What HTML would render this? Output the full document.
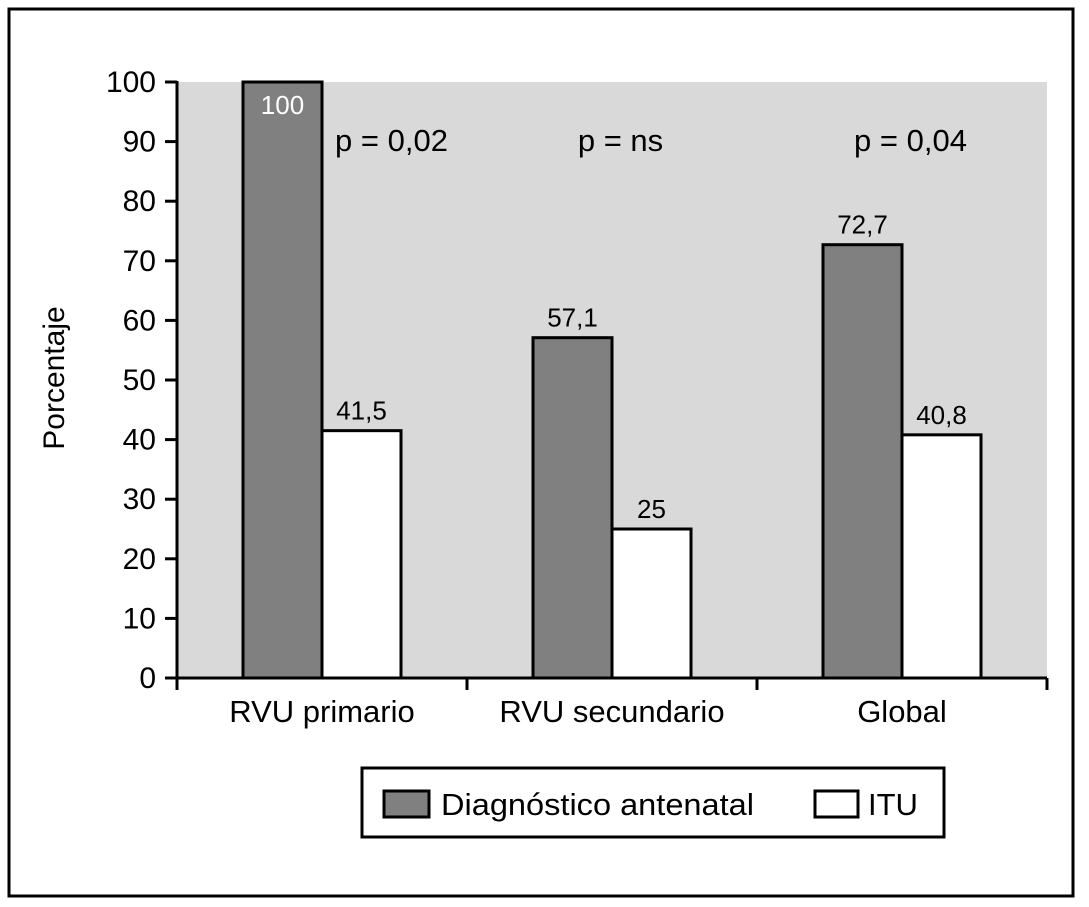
<!DOCTYPE html>
<html><head><meta charset="utf-8"><style>
body{margin:0;background:#fff}
svg{display:block;font-family:"Liberation Sans",Arial,sans-serif}
</style></head><body>
<svg id="c" width="1089" height="907" viewBox="0 0 1089 907">
<rect x="9" y="9" width="1064" height="887" fill="#fff" stroke="#000" stroke-width="3"/>
<rect x="177" y="82" width="870" height="596" fill="#d9d9d9"/>
<g id="marks"></g>
<text x="64" y="378" font-size="30" text-anchor="middle" transform="rotate(-90 64 378)">Porcentaje</text>
<g>
<rect x="362" y="768" width="582" height="69" fill="#fff" stroke="#000" stroke-width="3"/>
<rect x="384" y="791" width="45" height="26" fill="#808080" stroke="#000" stroke-width="3"/>
<text x="441" y="815" font-size="31" textLength="313" lengthAdjust="spacingAndGlyphs">Diagnóstico antenatal</text>
<rect x="815" y="791" width="43" height="26" fill="#fff" stroke="#000" stroke-width="3"/>
<text x="868" y="815" font-size="31">ITU</text>
</g>
</svg>
<script>
const categories=["RVU primario","RVU secundario","Global"];
const antenatal=[100,57.1,72.7];
const itu=[41.5,25,40.8];
const antenatalLabels=["100","57,1","72,7"];
const ituLabels=["41,5","25","40,8"];
const pLabels=["p = 0,02","p = ns","p = 0,04"];
const yTicks=[0,10,20,30,40,50,60,70,80,90,100];
const NS="http://www.w3.org/2000/svg";
const L=177,R=1047,T=82,B=678,gw=(R-L)/3,bw=79,off=66;
const y=v=>B-(v/100)*(B-T);
const gx=i=>L+i*gw;
const g=document.getElementById('marks');
function mk(t,a,txt){const e=document.createElementNS(NS,t);for(const k in a)e.setAttribute(k,a[k]);if(txt!=null)e.textContent=txt;g.appendChild(e);return e;}
categories.forEach((c,i)=>{
 const x0=gx(i)+off;
 let b=mk('rect',{x:x0,y:y(antenatal[i]),width:bw,height:B-y(antenatal[i]),fill:'#808080',stroke:'#000','stroke-width':3});
 
 
 let w=mk('rect',{x:x0+bw,y:y(itu[i]),width:bw,height:B-y(itu[i]),fill:'#fff',stroke:'#000','stroke-width':3});
 
 
 const inside=antenatal[i]>=95;
 let t1=mk('text',{x:x0+bw/2,y:inside?y(antenatal[i])+32:y(antenatal[i])-11,'font-size':26,'text-anchor':'middle',fill:inside?'#fff':'#000'},antenatalLabels[i]);
 
 
 let t2=mk('text',{x:x0+bw*1.5,y:y(itu[i])-11,'font-size':26,'text-anchor':'middle'},ituLabels[i]);
 
 
 let p=mk('text',{x:gx(i)+off+bw*1.5+(i==0?30:-31),y:151,'font-size':31,'text-anchor':'middle'},pLabels[i]);
 
 
 let cl=mk('text',{x:gx(i)+gw/2,y:722,'font-size':31,'text-anchor':'middle'},c);
 
 
});
for(let i=0;i<=3;i++){
 let t=mk('line',{x1:gx(i),x2:gx(i),y1:B,y2:B+12,stroke:'#000','stroke-width':3});
 
 
}
yTicks.forEach(v=>{
 let t=mk('line',{x1:165,x2:L,y1:y(v),y2:y(v),stroke:'#000','stroke-width':3});
 
 
 let l=mk('text',{x:156,y:y(v)+10,'font-size':30,'text-anchor':'end'},String(v));
 
 
});
let ya=mk('line',{x1:L,x2:L,y1:T-1,y2:B,stroke:'#000','stroke-width':3});


let xa=mk('line',{x1:L-1,x2:R,y1:B,y2:B,stroke:'#000','stroke-width':3});


</script>
</body></html>
